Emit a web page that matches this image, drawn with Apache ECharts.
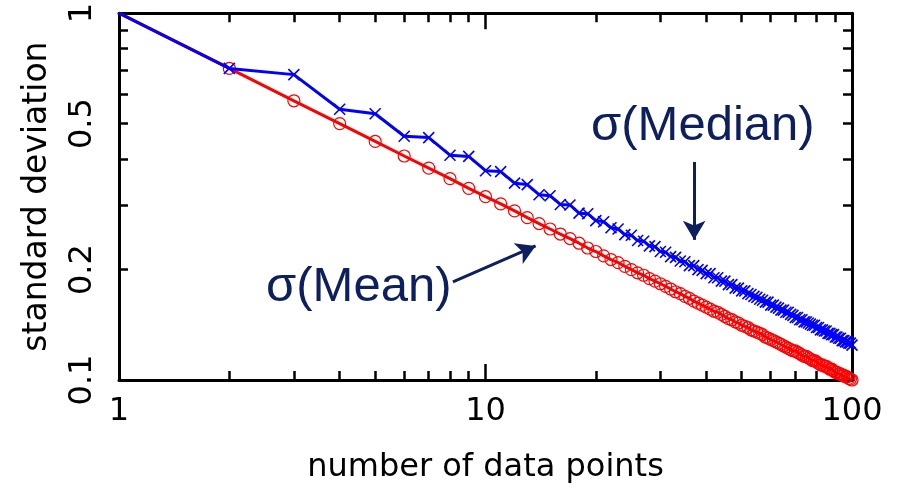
<!DOCTYPE html>
<html>
<head>
<meta charset="utf-8">
<script src="https://cdn.jsdelivr.net/npm/echarts@6/dist/echarts.min.js"></script>
<style>
  html, body { margin: 0; padding: 0; background: #fff; }
  #chart { width: 903px; height: 496px; }
</style>
</head>
<body>
<div id="chart"></div>
<script>
// number of data points, 1..100
const nPoints = [
  1, 2, 3, 4, 5, 6, 7, 8, 9, 10,
  11, 12, 13, 14, 15, 16, 17, 18, 19, 20,
  21, 22, 23, 24, 25, 26, 27, 28, 29, 30,
  31, 32, 33, 34, 35, 36, 37, 38, 39, 40,
  41, 42, 43, 44, 45, 46, 47, 48, 49, 50,
  51, 52, 53, 54, 55, 56, 57, 58, 59, 60,
  61, 62, 63, 64, 65, 66, 67, 68, 69, 70,
  71, 72, 73, 74, 75, 76, 77, 78, 79, 80,
  81, 82, 83, 84, 85, 86, 87, 88, 89, 90,
  91, 92, 93, 94, 95, 96, 97, 98, 99, 100
]

// sigma(Mean), red circles
const sigmaMean = [
  1.0, 0.707, 0.577, 0.5, 0.447, 0.408, 0.378, 0.354, 0.333, 0.316,
  0.302, 0.289, 0.277, 0.267, 0.258, 0.25, 0.243, 0.236, 0.229, 0.224,
  0.218, 0.213, 0.209, 0.204, 0.2, 0.196, 0.193, 0.189, 0.186, 0.183,
  0.18, 0.177, 0.174, 0.172, 0.169, 0.167, 0.164, 0.162, 0.16, 0.158,
  0.156, 0.154, 0.153, 0.151, 0.149, 0.147, 0.146, 0.144, 0.143, 0.141,
  0.14, 0.139, 0.137, 0.136, 0.135, 0.134, 0.133, 0.131, 0.13, 0.129,
  0.128, 0.127, 0.126, 0.125, 0.124, 0.123, 0.122, 0.121, 0.12, 0.12,
  0.119, 0.118, 0.117, 0.116, 0.116, 0.115, 0.114, 0.113, 0.113, 0.112,
  0.111, 0.11, 0.11, 0.109, 0.109, 0.108, 0.107, 0.107, 0.106, 0.105,
  0.105, 0.104, 0.104, 0.103, 0.103, 0.102, 0.102, 0.101, 0.1005, 0.1
]

// sigma(Median), blue crosses
const sigmaMedian = [
  1.0, 0.707, 0.68, 0.547, 0.532, 0.462, 0.458, 0.41, 0.407, 0.372,
  0.37, 0.344, 0.341, 0.32, 0.318, 0.301, 0.3, 0.285, 0.284, 0.272,
  0.27, 0.26, 0.258, 0.249, 0.248, 0.24, 0.239, 0.232, 0.231, 0.224,
  0.223, 0.217, 0.216, 0.211, 0.21, 0.205, 0.205, 0.2, 0.199, 0.195,
  0.195, 0.19, 0.19, 0.186, 0.186, 0.182, 0.182, 0.178, 0.178, 0.175,
  0.175, 0.172, 0.171, 0.169, 0.168, 0.166, 0.165, 0.163, 0.163, 0.16,
  0.16, 0.158, 0.157, 0.155, 0.155, 0.153, 0.153, 0.151, 0.15, 0.148,
  0.148, 0.146, 0.146, 0.144, 0.144, 0.143, 0.142, 0.141, 0.141, 0.139,
  0.139, 0.137, 0.137, 0.136, 0.136, 0.134, 0.134, 0.133, 0.133, 0.131,
  0.131, 0.13, 0.13, 0.128, 0.128, 0.127, 0.127, 0.126, 0.126, 0.1245
]

// tick positions (real values)
const xMajorTicks = [1, 10, 100]
const xMinorTicks = [2, 3, 4, 5, 6, 7, 8, 9, 20, 30, 40, 50, 60, 70, 80, 90]
const yMajorTicks = [0.1, 1]
const yMinorTicks = [0.2, 0.3, 0.4, 0.5, 0.6, 0.7, 0.8, 0.9]
const yTickLabels = [0.1, 0.2, 0.5, 1]

const navy = '#0d1f5c'
const tickFont = 'DejaVu Sans'

const lg = v => Math.log10(v)
const fmt = v => String(+Math.pow(10, v).toFixed(2))

// decoration axis (ticks / frame) living in log10 space
function deco(pos, min, max, ticks, len, opts) {
  return Object.assign({
    type: 'value',
    position: pos,
    min: min,
    max: max,
    axisLine: { show: false, onZero: false },
    axisTick: {
      show: true, inside: true, length: len,
      customValues: ticks.map(lg),
      lineStyle: { color: '#000', width: 2.5 }
    },
    axisLabel: { show: false },
    splitLine: { show: false }
  }, opts || {})
}

const frameLine = { show: true, onZero: false, lineStyle: { color: '#000', width: 3 } }

const chart = echarts.init(document.getElementById('chart'))

chart.setOption({
  animation: false,
  backgroundColor: '#fff',
  grid: { left: 119, right: 51, top: 13, bottom: 116 },
  xAxis: [
    { type: 'log', logBase: 10, min: 1, max: 100, show: false },
    deco('bottom', 0, 2, xMajorTicks, 16, {
      axisLine: frameLine,
      axisLabel: {
        show: true, customValues: xMajorTicks.map(lg), formatter: fmt,
        fontFamily: tickFont, fontSize: 32, color: '#000', margin: 16
      },
      name: 'number of data points',
      nameLocation: 'middle',
      nameGap: 72,
      nameTextStyle: { fontFamily: tickFont, fontSize: 32, color: '#000' }
    }),
    deco('bottom', 0, 2, xMinorTicks, 9),
    deco('top', 0, 2, xMajorTicks, 16, { axisLine: frameLine }),
    deco('top', 0, 2, xMinorTicks, 9)
  ],
  yAxis: [
    { type: 'log', logBase: 10, min: 0.1, max: 1, show: false },
    deco('left', -1, 0, yMajorTicks, 16, {
      axisLine: frameLine,
      axisLabel: {
        show: true, customValues: yTickLabels.map(lg), formatter: fmt,
        rotate: 90, fontFamily: tickFont, fontSize: 32, color: '#000', margin: 20
      },
      name: 'standard deviation',
      nameLocation: 'middle',
      nameGap: 65,
      nameRotate: 90,
      nameTextStyle: { fontFamily: tickFont, fontSize: 33, color: '#000' }
    }),
    deco('left', -1, 0, yMinorTicks, 9),
    deco('right', -1, 0, yMajorTicks, 16, { axisLine: frameLine }),
    deco('right', -1, 0, yMinorTicks, 9)
  ],
  series: [
    {
      name: 'σ(Mean)',
      type: 'line',
      xAxisIndex: 0,
      yAxisIndex: 0,
      data: nPoints.map((n, i) => [n, sigmaMean[i]]),
      symbol: (v, p) => (p.dataIndex === 0 ? 'none' : 'circle'),
      symbolSize: 12,
      lineStyle: { color: '#ff0000', width: 3 },
      itemStyle: { color: 'rgba(0,0,0,0)', borderColor: '#ff0000', borderWidth: 1.2 },
      emphasis: { disabled: true },
      z: 3
    },
    {
      name: 'σ(Median)',
      type: 'line',
      xAxisIndex: 0,
      yAxisIndex: 0,
      data: nPoints.map((n, i) => [n, sigmaMedian[i]]),
      symbol: (v, p) => (p.dataIndex === 0 ? 'none' : 'path://M0,0L10,10M10,0L0,10'),
      symbolSize: 11,
      lineStyle: { color: '#0000ff', width: 3 },
      itemStyle: { color: '#0000ff', borderColor: '#0000ff', borderWidth: 1.6 },
      emphasis: { disabled: true },
      z: 4,
      markLine: {
        silent: true,
        symbol: ['none', 'arrow'],
        symbolSize: [17, 19],
        label: { show: false },
        lineStyle: { color: navy, width: 3, type: 'solid' },
        data: [
          [{ coord: [8.15, 0.185] }, { coord: [13.7, 0.232] }],
          [{ coord: [37.1, 0.393] }, { coord: [37.1, 0.241] }]
        ]
      }
    }
  ],
  graphic: [
    {
      type: 'text', x: 266, y: 287,
      style: {
        text: 'σ(Mean)', fill: navy, verticalAlign: 'middle',
        font: '49px "Liberation Sans", Arial, sans-serif'
      }
    },
    {
      type: 'text', x: 591, y: 126,
      style: {
        text: 'σ(Median)', fill: navy, verticalAlign: 'middle',
        font: '49px "Liberation Sans", Arial, sans-serif'
      }
    }
  ]
})
</script>
</body>
</html>
